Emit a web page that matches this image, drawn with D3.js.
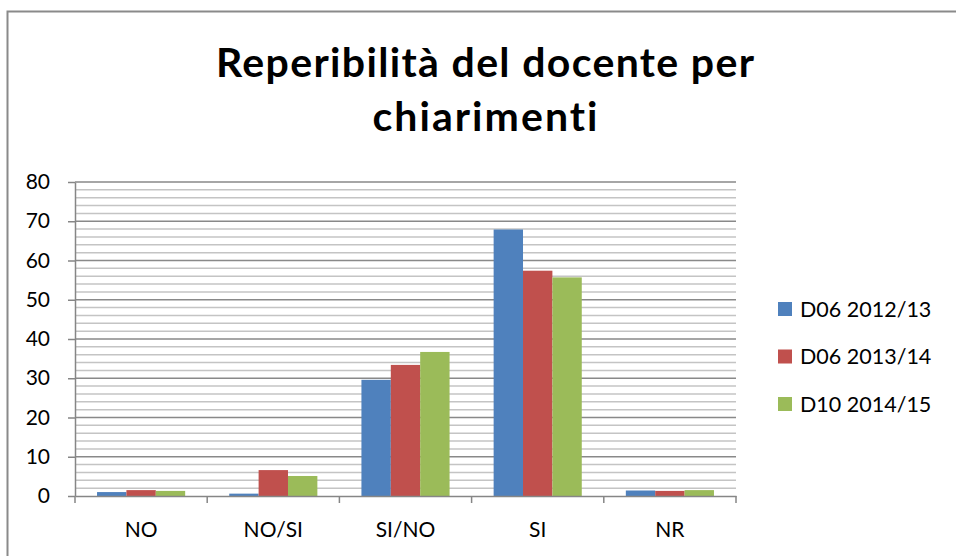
<!DOCTYPE html>
<html>
<head>
<meta charset="utf-8">
<script src="https://cdn.jsdelivr.net/npm/d3@7"></script>
<style>
  body { margin: 0; background: #fff; }
  svg text { font-family: Lato, "Open Sans", sans-serif; fill: #000; font-variant-ligatures: none; }
  .axis path, .axis line { stroke: #868686; stroke-width: 1.5; }
  .axis text { font-size: 21px; }
</style>
</head>
<body>
<svg id="chart" width="956" height="556"></svg>
<script>
const categories = ['NO', 'NO/SI', 'SI/NO', 'SI', 'NR'];
const seriesNames = ['D06 2012/13', 'D06 2013/14', 'D10 2014/15'];
const d06_2012 = [1.0, 0.6, 29.6, 67.9, 1.4];
const d06_2013 = [1.5, 6.6, 33.4, 57.4, 1.3];
const d10_2014 = [1.3, 5.1, 36.7, 55.7, 1.5];
const yTicks = [0, 10, 20, 30, 40, 50, 60, 70, 80];
const colors = ['#4F81BD', '#C0504D', '#9BBB59'];
const titleLines = ['Reperibilità del docente per', 'chiarimenti'];

const seriesValues = [d06_2012, d06_2013, d10_2014];
const svg = d3.select('#chart');
const plot = { left: 75, right: 736, top: 182, bottom: 496 };

// outer frame (cut off on right and bottom)
svg.append('rect')
  .attr('x', 7.5).attr('y', 11.5).attr('width', 980).attr('height', 580)
  .attr('fill', 'none').attr('stroke', '#8a8a8a').attr('stroke-width', 2);

// title, stretched a bit to match the wider original face
const titleWidths = [538, 225];
svg.append('g').selectAll('text')
  .data(titleLines)
  .join('text')
  .attr('text-anchor', 'middle')
  .attr('font-weight', 'bold')
  .attr('font-size', 41)
  .attr('x', 485)
  .attr('y', (d, i) => 77 + i * 54)
  .attr('textLength', (d, i) => titleWidths[i])
  .attr('lengthAdjust', 'spacing')
  .text(d => d);

let x0 = d3.scaleBand().domain(categories).range([plot.left, plot.right]);
let bw = x0.bandwidth();
let x1 = d3.scaleBand().domain(seriesNames).range([bw / 6, bw * 5 / 6]);
let y = d3.scaleLinear().domain([0, 80]).range([plot.bottom, plot.top]);

// gridlines: minor every 2, major every 10
let minor = d3.range(2, 80, 2).filter(v => v % 10 !== 0);
svg.append('g').selectAll('line')
  .data(minor)
  .join('line')
  .attr('x1', plot.left).attr('x2', plot.right)
  .attr('y1', d => y(d)).attr('y2', d => y(d))
  .attr('stroke', '#c4c4c4').attr('stroke-width', 1.5);
svg.append('g').selectAll('line')
  .data(yTicks.filter(v => v > 0))
  .join('line')
  .attr('x1', plot.left).attr('x2', plot.right)
  .attr('y1', d => y(d)).attr('y2', d => y(d))
  .attr('stroke', '#898989').attr('stroke-width', 1.5);

// bars
let flat = [];
seriesValues.forEach((vals, s) => {
  vals.forEach((v, c) => flat.push({ cat: categories[c], s: seriesNames[s], color: colors[s], v: v }));
});
svg.append('g').selectAll('rect')
  .data(flat)
  .join('rect')
  .attr('x', d => x0(d.cat) + x1(d.s))
  .attr('width', x1.bandwidth())
  .attr('y', d => y(d.v))
  .attr('height', d => y(0) - y(d.v))
  .attr('fill', d => d.color);

// axes
let aY = d3.axisLeft(y).tickValues(yTicks).tickSize(7).tickSizeOuter(0).tickPadding(18);
svg.append('g')
  .attr('class', 'axis axis--y')
  .attr('transform', `translate(${plot.left}, 0)`)
  .call(aY);

let aX = d3.axisBottom(x0).tickSize(0).tickSizeOuter(0).tickPadding(26);
let gx = svg.append('g')
  .attr('class', 'axis axis--x')
  .attr('transform', `translate(0, ${plot.bottom})`)
  .call(aX);
// category boundary ticks
gx.selectAll('.bound')
  .data(d3.range(categories.length + 1))
  .join('line')
  .attr('class', 'bound')
  .attr('x1', i => plot.left + i * bw).attr('x2', i => plot.left + i * bw)
  .attr('y1', 0).attr('y2', 7);

// legend
let lg = svg.append('g').selectAll('g')
  .data(seriesNames)
  .join('g')
  .attr('transform', (d, i) => `translate(778, ${302 + i * 47.5})`);
lg.append('rect').attr('width', 14).attr('height', 14).attr('fill', (d, i) => colors[i]);
lg.append('text').attr('x', 22).attr('y', 14.5).attr('font-size', 21.5).text(d => d);
</script>
</body>
</html>
